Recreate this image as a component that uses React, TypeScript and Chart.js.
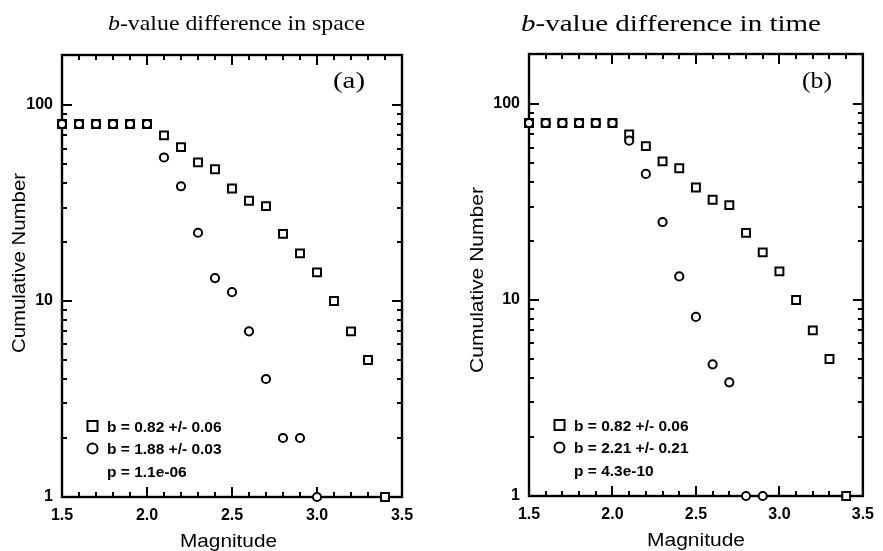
import React, { useEffect, useRef } from "react";
import { Chart, registerables } from "chart.js";

Chart.register(...registerables);

// ---------- data ----------
const magnitudes = [1.5, 1.6, 1.7, 1.8, 1.9, 2.0, 2.1, 2.2, 2.3, 2.4, 2.5, 2.6, 2.7, 2.8, 2.9, 3.0, 3.1, 3.2, 3.3, 3.4];
const squaresSpace = [80, 80, 80, 80, 80, 80, 70, 61, 51, 47, 37.5, 32.5, 30.5, 22, 17.5, 14, 10, 7, 5, 1];
const circlesSpace = [80, 80, 80, 80, 80, 80, 54, 38.5, 22.3, 13.1, 11.1, 7, 4, 2, 2, 1];
const squaresTime = [80, 80, 80, 80, 80, 80, 70, 61, 51, 47, 37.5, 32.5, 30.5, 22, 17.5, 14, 10, 7, 5, 1];
const circlesTime = [80, 80, 80, 80, 80, 80, 65, 44, 25, 13.2, 8.2, 4.7, 3.8, 1, 1];
const xTickValues = [1.5, 2.0, 2.5, 3.0, 3.5];
const yTickValues = [1, 10, 100];
const legendSpace = ["b = 0.82 +/- 0.06", "b = 1.88 +/- 0.03", "p = 1.1e-06"];
const legendTime = ["b = 0.82 +/- 0.06", "b = 2.21 +/- 0.21", "p = 4.3e-10"];
const titleItalic = "b";
const titleSpaceRest = "-value difference in space";
const titleTimeRest = "-value difference in time";
const panelLabels = ["(a)", "(b)"];
const xTitle = "Magnitude";
const yTitle = "Cumulative Number";

const SANS = '"Liberation Sans", Arial, Helvetica, sans-serif';
const SERIF = '"Liberation Serif", "Times New Roman", Times, serif';

type PanelSpec = {
  left: number;
  width: number;
  height: number;
  padding: { left: number; top: number; right: number; bottom: number };
  xAxisHeight: number;
  squares: number[];
  circles: number[];
  legend: string[];
  titleRest: string;
  label: string;
  title: { size: number; x0: number; x1: number; baseline: number };
  labelPos: { size: number; x0: number; x1: number; baseline: number };
  xTitlePos: { size: number; cx: number; width: number; baseline: number };
  yTitlePos: { size: number; cy: number; length: number; baselineX: number };
};

const panels: PanelSpec[] = [
  {
    left: 0,
    width: 441,
    height: 551,
    padding: { left: 0, top: 55, right: 39, bottom: 0 },
    xAxisHeight: 54,
    squares: squaresSpace,
    circles: circlesSpace,
    legend: legendSpace,
    titleRest: titleSpaceRest,
    label: panelLabels[0],
    title: { size: 22, x0: 108, x1: 365, baseline: 30 },
    labelPos: { size: 23, x0: 333, x1: 365, baseline: 88 },
    xTitlePos: { size: 18, cx: 228.5, width: 97, baseline: 546.5 },
    yTitlePos: { size: 18, cy: 263, length: 180, baselineX: 25 },
  },
  {
    left: 441,
    width: 442,
    height: 551,
    padding: { left: 26, top: 54, right: 15, bottom: 0 },
    xAxisHeight: 55,
    squares: squaresTime,
    circles: circlesTime,
    legend: legendTime,
    titleRest: titleTimeRest,
    label: panelLabels[1],
    title: { size: 24, x0: 80, x1: 380, baseline: 31 },
    labelPos: { size: 23, x0: 361, x1: 391, baseline: 88 },
    xTitlePos: { size: 18, cx: 255, width: 98, baseline: 545.7 },
    yTitlePos: { size: 18, cy: 280, length: 186, baselineX: 42 },
  },
];

function drawFitted(ctx: CanvasRenderingContext2D, text: string, font: string, x: number, y: number, width: number) {
  ctx.save();
  ctx.font = font;
  const w = ctx.measureText(text).width;
  ctx.translate(x, y);
  ctx.scale(width / w, 1);
  ctx.textAlign = "left";
  ctx.textBaseline = "alphabetic";
  ctx.fillText(text, 0, 0);
  ctx.restore();
}

function makeDecorPlugin(spec: PanelSpec) {
  return {
    id: "decor",
    beforeDatasetsDraw(chart: any) {
      const ctx: CanvasRenderingContext2D = chart.ctx;
      const { left, right, top, bottom } = chart.chartArea;
      const xs = chart.scales.x;
      const ys = chart.scales.y;
      ctx.save();
      ctx.strokeStyle = "#000";
      ctx.lineWidth = 2.4;
      ctx.lineCap = "butt";
      ctx.strokeRect(left, top, right - left, bottom - top);
      ctx.beginPath();
      ctx.lineWidth = 2;
      // x ticks (bottom and top, inward)
      for (let i = 0; i <= 20; i++) {
        const v = 1.5 + i * 0.1;
        const px = Math.round(xs.getPixelForValue(v));
        const len = i % 5 === 0 ? 10 : 5;
        ctx.moveTo(px, bottom);
        ctx.lineTo(px, bottom - len);
        ctx.moveTo(px, top);
        ctx.lineTo(px, top + len);
      }
      // y ticks (left and right, inward)
      for (let dec = 1; dec <= 100; dec *= 10) {
        for (let m = 1; m <= 9; m++) {
          const v = dec * m;
          if (v > ys.max) continue;
          const py = Math.round(ys.getPixelForValue(v));
          const len = m === 1 ? 10 : 5;
          ctx.moveTo(left, py);
          ctx.lineTo(left + len, py);
          ctx.moveTo(right, py);
          ctx.lineTo(right - len, py);
        }
      }
      ctx.stroke();
      ctx.restore();
    },
    afterDraw(chart: any) {
      const ctx: CanvasRenderingContext2D = chart.ctx;
      const { left, bottom } = chart.chartArea;
      ctx.save();
      ctx.fillStyle = "#000";
      ctx.strokeStyle = "#000";

      // title with italic b
      const t = spec.title;
      ctx.font = `italic ${t.size}px ${SERIF}`;
      const wb = ctx.measureText(titleItalic).width;
      ctx.font = `${t.size}px ${SERIF}`;
      const wr = ctx.measureText(spec.titleRest).width;
      const s = (t.x1 - t.x0) / (wb + wr);
      ctx.save();
      ctx.translate(t.x0, t.baseline);
      ctx.scale(s, 1);
      ctx.textAlign = "left";
      ctx.font = `italic ${t.size}px ${SERIF}`;
      ctx.fillText(titleItalic, 0, 0);
      ctx.font = `${t.size}px ${SERIF}`;
      ctx.fillText(spec.titleRest, wb, 0);
      ctx.restore();

      // panel label
      const lp = spec.labelPos;
      drawFitted(ctx, spec.label, `${lp.size}px ${SERIF}`, lp.x0, lp.baseline, lp.x1 - lp.x0);

      // x title
      const xt = spec.xTitlePos;
      drawFitted(ctx, xTitle, `${xt.size}px ${SANS}`, xt.cx - xt.width / 2, xt.baseline, xt.width);

      // y title (rotated)
      const yt = spec.yTitlePos;
      ctx.save();
      ctx.font = `${yt.size}px ${SANS}`;
      const wy = ctx.measureText(yTitle).width;
      ctx.translate(yt.baselineX, yt.cy);
      ctx.rotate(-Math.PI / 2);
      ctx.scale(yt.length / wy, 1);
      ctx.textAlign = "center";
      ctx.textBaseline = "alphabetic";
      ctx.fillText(yTitle, 0, 0);
      ctx.restore();

      // legend
      const rows = [bottom - 71, bottom - 48.5, bottom - 26];
      const mx = left + 30.5;
      const tx = left + 45;
      ctx.lineWidth = 2;
      ctx.fillStyle = "#fff";
      ctx.beginPath();
      ctx.rect(mx - 5, rows[0] - 5, 10, 10);
      ctx.fill();
      ctx.stroke();
      ctx.beginPath();
      ctx.arc(mx, rows[1], 5, 0, Math.PI * 2);
      ctx.fill();
      ctx.stroke();
      ctx.fillStyle = "#000";
      ctx.font = `bold 15.5px ${SANS}`;
      ctx.textAlign = "left";
      ctx.textBaseline = "alphabetic";
      spec.legend.forEach((txt, i) => {
        ctx.fillText(txt, tx, rows[i] + 5.5);
      });
      ctx.restore();
    },
  };
}

function Panel({ spec }: { spec: PanelSpec }) {
  const ref = useRef<HTMLCanvasElement | null>(null);
  useEffect(() => {
    if (!ref.current) return;
    const circleData = spec.circles.map((y, i) => ({ x: magnitudes[i], y }));
    const squareData = spec.squares.map((y, i) => ({ x: magnitudes[i], y }));
    const chart = new Chart(ref.current, {
      type: "scatter",
      data: {
        datasets: [
          {
            label: "circles",
            data: circleData,
            pointStyle: "circle",
            pointRadius: 4.1,
            pointBorderWidth: 2,
            pointBackgroundColor: "#fff",
            pointBorderColor: "#000",
            showLine: false,
            clip: false,
          } as any,
          {
            label: "squares",
            data: squareData,
            pointStyle: "rect",
            pointRadius: 5.6,
            pointBorderWidth: 2,
            pointBackgroundColor: "#fff",
            pointBorderColor: "#000",
            showLine: false,
            clip: false,
          } as any,
        ],
      },
      options: {
        responsive: false,
        animation: false,
        devicePixelRatio: 1,
        layout: { padding: spec.padding },
        plugins: {
          legend: { display: false },
          tooltip: { enabled: false },
          title: { display: false },
        },
        scales: {
          x: {
            type: "linear",
            min: 1.5,
            max: 3.5,
            grid: { display: false, drawTicks: false },
            border: { display: false },
            afterBuildTicks: (scale: any) => {
              scale.ticks = xTickValues.map((v) => ({ value: v }));
            },
            afterFit: (scale: any) => {
              scale.height = spec.xAxisHeight;
            },
            ticks: {
              autoSkip: false,
              maxRotation: 0,
              padding: 9,
              color: "#000",
              font: { family: SANS, size: 16, weight: "bold" },
              callback: (v: any) => Number(v).toFixed(1),
            },
          },
          y: {
            type: "logarithmic",
            min: 1,
            max: 180,
            grid: { display: false, drawTicks: false },
            border: { display: false },
            afterBuildTicks: (scale: any) => {
              scale.ticks = yTickValues.map((v) => ({ value: v }));
            },
            afterFit: (scale: any) => {
              scale.width = 62;
            },
            ticks: {
              autoSkip: false,
              padding: 9,
              color: "#000",
              font: { family: SANS, size: 16, weight: "bold" },
              callback: (v: any) => String(v),
            },
          },
        },
      } as any,
      plugins: [makeDecorPlugin(spec)],
    });
    return () => chart.destroy();
  }, [spec]);
  return (
    <canvas
      ref={ref}
      width={spec.width}
      height={spec.height}
      style={{ position: "absolute", left: spec.left, top: 0, width: spec.width, height: spec.height, display: "block" }}
    />
  );
}

export default function App() {
  return (
    <div style={{ position: "fixed", left: 0, top: 0, width: 883, height: 551, background: "#fff", overflow: "hidden" }}>
      {panels.map((p, i) => (
        <Panel key={i} spec={p} />
      ))}
    </div>
  );
}
